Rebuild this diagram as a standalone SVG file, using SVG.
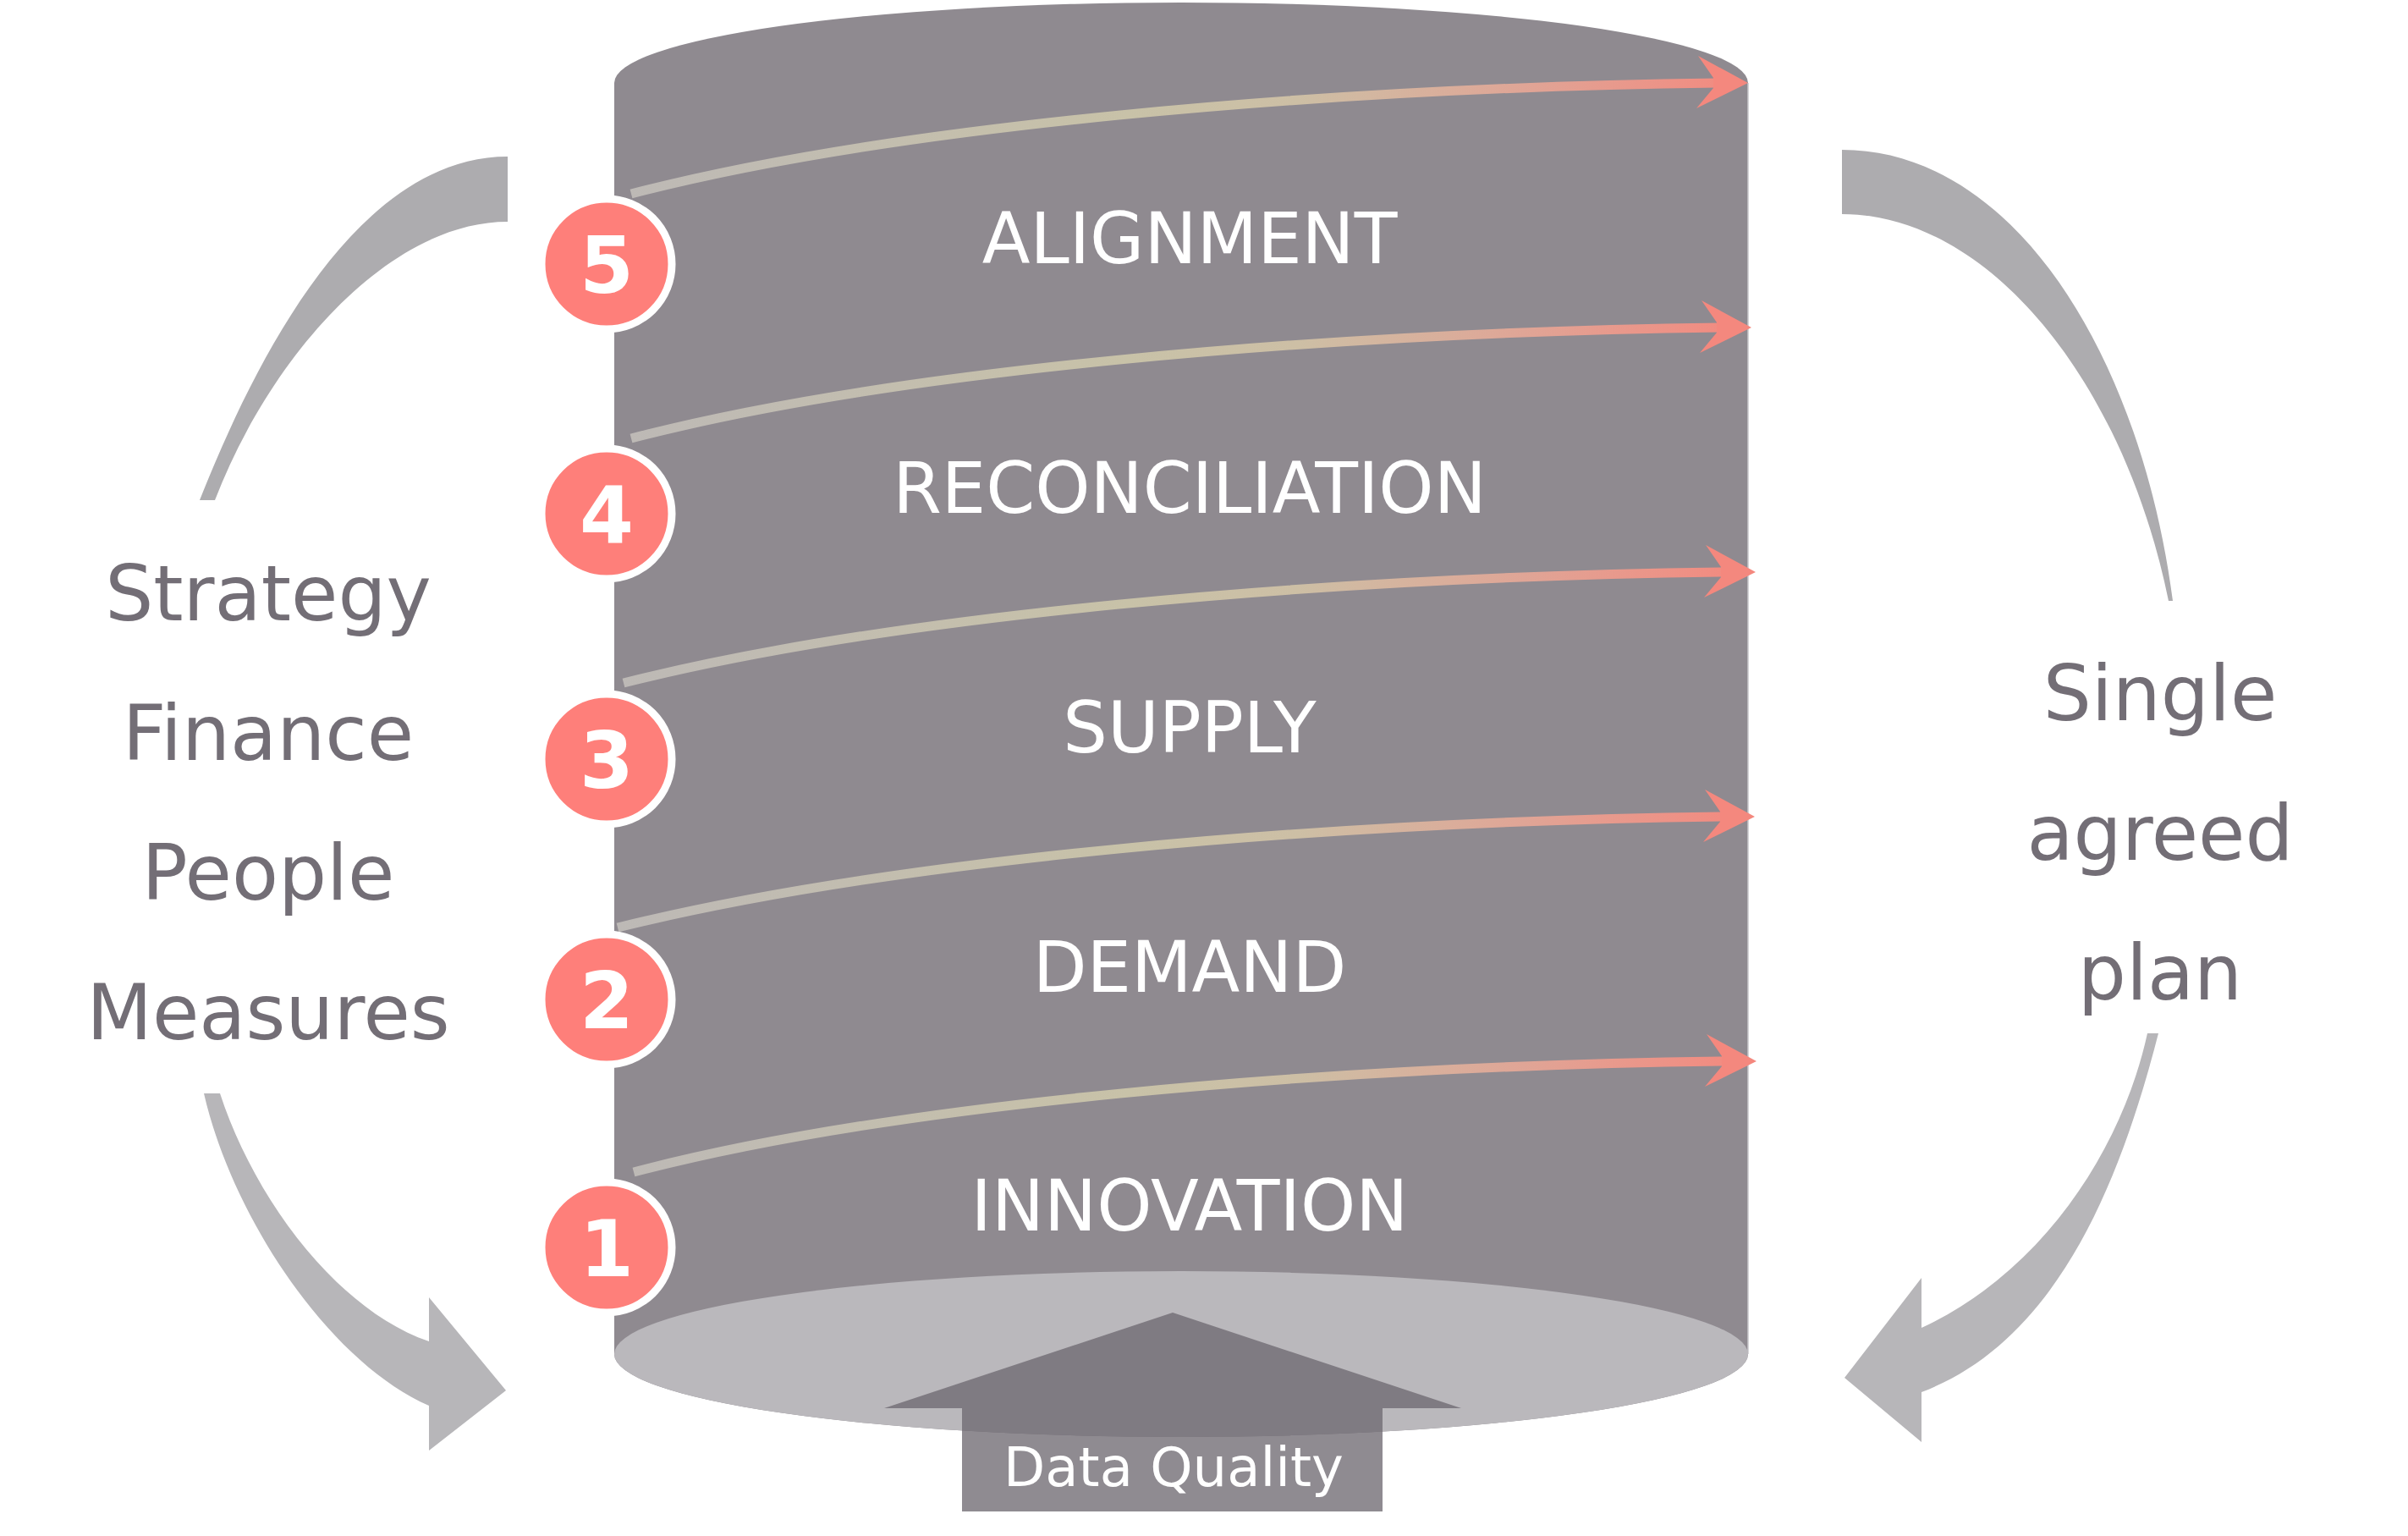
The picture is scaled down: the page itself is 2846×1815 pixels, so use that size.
<svg xmlns="http://www.w3.org/2000/svg" width="2846" height="1815" viewBox="0 0 2846 1815">
<defs>
<style>
.lbl{font-family:"DejaVu Sans",Verdana,sans-serif;font-size:83px;fill:#ffffff;text-anchor:middle}
.side{font-family:"DejaVu Sans",Verdana,sans-serif;font-size:90px;fill:#736e76;text-anchor:middle}
.num circle{fill:#fe7f7a;stroke:#ffffff;stroke-width:9}
.num text{font-family:"DejaVu Sans",Verdana,sans-serif;font-weight:bold;font-size:92px;fill:#ffffff;text-anchor:middle}
.shaft{fill:none;stroke:url(#spiral);stroke-width:11}
.head{fill:#f4887e}
.bandTop{fill:#adacaf}
.bandBot{fill:#b7b6b9}
</style>
<linearGradient id="spiral" gradientUnits="userSpaceOnUse" x1="730" y1="0" x2="2070" y2="0">
<stop offset="0" stop-color="#bdb9b6"/>
<stop offset="0.45" stop-color="#c8c2a8"/>
<stop offset="0.6" stop-color="#cdbfa5"/>
<stop offset="0.8" stop-color="#e0a596"/>
<stop offset="1" stop-color="#f4887e"/>
</linearGradient>
</defs>
<rect width="2846" height="1815" fill="#ffffff"/>
<g id="cylinder">
<path d="M726,98 A670,95 0 0 1 2066,98 L2066,1600 A670,98 0 0 1 726,1600 Z" fill="#8f8a90"/>
<line x1="2066" y1="98" x2="2066" y2="1600" stroke="#c9c7cb" stroke-width="1.5"/>
<ellipse cx="1396" cy="1600" rx="670" ry="98" fill="#bab8bc"/>
</g>
<g id="connectors">
<g id="spiral-arrows">
<path class="shaft" d="M746,229 C1050,150 1550,104 2030,98"/>
<path class="head" d="M2066,98 L2007,66 L2025,92 L2025,104 L2005,128 Z"/>
<path class="shaft" d="M746,518 C1050,439 1550,393 2034,387"/>
<path class="head" d="M2070,387 L2011,355 L2029,381 L2029,393 L2009,417 Z"/>
<path class="shaft" d="M737,807 C1050,728 1550,682 2039,676"/>
<path class="head" d="M2075,676 L2016,644 L2034,670 L2034,682 L2014,706 Z"/>
<path class="shaft" d="M730,1096 C1050,1017 1550,971 2038,965"/>
<path class="head" d="M2074,965 L2015,933 L2033,959 L2033,971 L2013,995 Z"/>
<path class="shaft" d="M749,1385 C1050,1306 1550,1260 2040,1254"/>
<path class="head" d="M2076,1254 L2017,1222 L2035,1248 L2035,1260 L2015,1284 Z"/>
</g>
<path id="arrow-left-top" class="bandTop" d="M600,185 C420,185 300,430 236,591 L254,591 C320,420 460,262 600,262 Z"/>
<path id="arrow-right-top" class="bandTop" d="M2177,177 C2380,177 2530,420 2568,710 L2563,710 C2510,450 2350,253 2177,253 Z"/>
<path id="arrow-left-bottom" class="bandBot" d="M241,1292 C275,1440 390,1610 507,1661 L507,1714 L598,1643 L507,1533 L507,1585 C398,1548 300,1415 260,1292 Z"/>
<path id="arrow-right-bottom" class="bandBot" d="M2551,1221 C2505,1400 2430,1585 2271,1645 L2271,1704 L2180,1628 L2271,1510 L2271,1569 C2420,1500 2510,1350 2538,1221 Z"/>
</g>
<g id="labels">
<text class="lbl" x="1406" y="311">ALIGNMENT</text>
<text class="lbl" x="1406" y="606">RECONCILIATION</text>
<text class="lbl" x="1406" y="889">SUPPLY</text>
<text class="lbl" x="1406" y="1172">DEMAND</text>
<text class="lbl" x="1406" y="1454">INNOVATION</text>
</g>
<g id="step-5" class="num"><circle cx="717" cy="312" r="77"/><text x="717" y="346">5</text></g>
<g id="step-4" class="num"><circle cx="717" cy="607" r="77"/><text x="717" y="641">4</text></g>
<g id="step-3" class="num"><circle cx="717" cy="897" r="77"/><text x="717" y="931">3</text></g>
<g id="step-2" class="num"><circle cx="717" cy="1181" r="77"/><text x="717" y="1215">2</text></g>
<g id="step-1" class="num"><circle cx="717" cy="1474" r="77"/><text x="717" y="1508">1</text></g>
<g id="data-quality">
<path d="M1386,1551 L1727,1664 L1634,1664 L1634,1786 L1137,1786 L1137,1664 L1045,1664 Z" fill="#6d6870" fill-opacity="0.77"/>
<text x="1387" y="1756" font-family="'DejaVu Sans',Verdana,sans-serif" font-size="64" fill="#ffffff" text-anchor="middle">Data Quality</text>
</g>
<g id="inputs">
<text class="side" x="317" y="733">Strategy</text>
<text class="side" x="317" y="898">Finance</text>
<text class="side" x="317" y="1063">People</text>
<text class="side" x="317" y="1228">Measures</text>
</g>
<g id="output">
<text class="side" x="2553" y="851">Single</text>
<text class="side" x="2553" y="1016">agreed</text>
<text class="side" x="2553" y="1181">plan</text>
</g>
</svg>
